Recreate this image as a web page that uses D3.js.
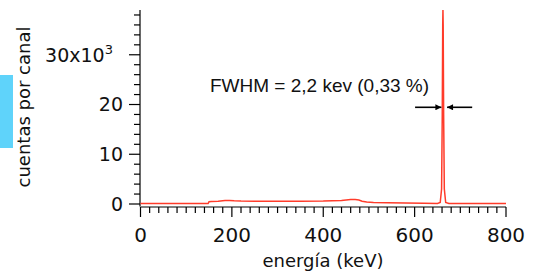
<!DOCTYPE html>
<head>
  <meta charset="utf-8">
  <script src="https://d3js.org/d3.v7.min.js"></script>
  <style>
    body { margin: 0; background: #fff; }
    .tick text { font-family: "DejaVu Sans", Verdana, sans-serif; }
  </style>
</head>
<body>
<script>
// spectrum (energy in keV, counts per channel)
var energy = [0, 20, 50, 100, 140, 148, 150, 155, 170, 185, 195, 205, 220, 250, 300, 350, 400, 440, 460, 470, 478, 485, 495, 510, 540, 580, 620, 650, 656, 659, 660.5, 661.5, 662, 662.5, 663.5, 665, 668, 675, 700, 750, 800];
var counts = [80, 80, 80, 80, 80, 90, 450, 500, 550, 700, 720, 650, 580, 560, 560, 570, 600, 720, 880, 880, 800, 560, 400, 320, 240, 180, 140, 120, 300, 3000, 18000, 36000, 39500, 36000, 18000, 3000, 300, 120, 100, 90, 80];
var xTicks = [0, 200, 400, 600, 800];
var yTicks = [0, 10000, 20000, 30000];
var yTickLabels = ["0", "10", "20", "30x10"];

var svg = d3.select("body").append("svg")
    .attr("width", 536)
    .attr("height", 276);

var x = d3.scaleLinear().domain([0, 800]).range([140.5, 506]);
var y = d3.scaleLinear().domain([0, 39000]).range([204, 10]);

//cyan marker at left
svg.append("rect")
    .attr("x", 0).attr("y", 75)
    .attr("width", 13).attr("height", 73)
    .attr("fill", "#5fd3fa");

//y axis
var yAxis = svg.append("g")
    .attr("transform", "translate(140,0)");
yAxis.append("line")
    .attr("x1", 0).attr("x2", 0)
    .attr("y1", y(39000)).attr("y2", 206.5)
    .attr("stroke", "#000").attr("stroke-width", 1.2);
yAxis.selectAll(".minor")
    .data(d3.range(0, 39000, 2000))
    .enter().append("line")
      .attr("x1", function(d) { return d % 10000 === 0 ? -11 : -6; })
      .attr("x2", 0)
      .attr("y1", function(d) { return y(d); })
      .attr("y2", function(d) { return y(d); })
      .attr("stroke", "#000").attr("stroke-width", 1.2);
var yl = yAxis.selectAll(".ylab")
    .data(yTicks)
    .enter().append("text")
      .attr("x", -17)
      .attr("y", function(d) { return y(d); })
      .attr("dy", "0.36em")
      .attr("text-anchor", "end")
      .attr("font-family", "DejaVu Sans, Verdana, sans-serif")
      .attr("font-size", "19px")
      .attr("fill", "#111")
      .text(function(d, i) { return yTickLabels[i]; });
// superscript on the top label
yl.filter(function(d) { return d === 30000; })
    .attr("x", -27)
    .append("tspan")
      .attr("dy", "-0.6em")
      .attr("font-size", "13px")
      .text("3");

//x axis
var xAxis = svg.append("g")
    .attr("transform", "translate(0,207)");
xAxis.append("line")
    .attr("x1", x(0)).attr("x2", x(800))
    .attr("y1", 0).attr("y2", 0)
    .attr("stroke", "#000").attr("stroke-width", 1.2);
xAxis.selectAll(".xt")
    .data(d3.range(0, 801, 20))
    .enter().append("line")
      .attr("x1", function(d) { return x(d); })
      .attr("x2", function(d) { return x(d); })
      .attr("y1", 0)
      .attr("y2", function(d) { return d % 200 === 0 ? 10 : 6; })
      .attr("stroke", "#000").attr("stroke-width", 1.2);
xAxis.selectAll(".xlab")
    .data(xTicks)
    .enter().append("text")
      .attr("x", function(d) { return x(d); })
      .attr("y", 35)
      .attr("text-anchor", "middle")
      .attr("font-family", "DejaVu Sans, Verdana, sans-serif")
      .attr("font-size", "20px")
      .attr("fill", "#111")
      .text(function(d) { return d; });

//axis titles
svg.append("text")
    .attr("x", 323).attr("y", 267)
    .attr("text-anchor", "middle")
    .attr("font-family", "DejaVu Sans, Verdana, sans-serif")
    .attr("font-size", "18px")
    .attr("fill", "#111")
    .text("energía (keV)");

svg.append("text")
    .attr("transform", "translate(30,107) rotate(-90)")
    .attr("text-anchor", "middle")
    .attr("font-family", "DejaVu Sans, Verdana, sans-serif")
    .attr("font-size", "18px")
    .attr("fill", "#111")
    .text("cuentas por canal");

//spectrum
var line = d3.line()
    .x(function(d, i) { return x(energy[i]); })
    .y(function(d) { return y(Math.min(d, 39000)); });

svg.append("path")
    .datum(counts)
    .attr("fill", "none")
    .attr("stroke", "#ff3b2a")
    .attr("stroke-width", 1.5)
    .attr("d", line);

//FWHM annotation
svg.append("text")
    .attr("x", 210).attr("y", 91.5)
    .attr("font-family", "Liberation Sans, Arial, sans-serif")
    .attr("font-size", "19px")
    .attr("fill", "#111")
    .text("FWHM = 2,2 kev (0,33 %)");

var defs = svg.append("defs");
defs.append("marker")
    .attr("id", "ah")
    .attr("viewBox", "0 0 10 10")
    .attr("refX", 10).attr("refY", 5)
    .attr("markerWidth", 10).attr("markerHeight", 6)
    .attr("markerUnits", "userSpaceOnUse")
    .attr("orient", "auto")
  .append("path")
    .attr("d", "M0,0 L10,5 L0,10 Z")
    .attr("fill", "#000");

svg.append("line")
    .attr("x1", x(601)).attr("x2", x(658.5))
    .attr("y1", 107.3).attr("y2", 107.3)
    .attr("stroke", "#000").attr("stroke-width", 1.6)
    .attr("marker-end", "url(#ah)");
svg.append("line")
    .attr("x1", x(726)).attr("x2", x(671))
    .attr("y1", 107.3).attr("y2", 107.3)
    .attr("stroke", "#000").attr("stroke-width", 1.6)
    .attr("marker-end", "url(#ah)");
</script>
</body>
